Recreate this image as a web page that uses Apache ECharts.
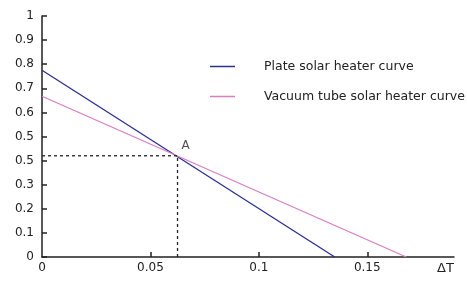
<!DOCTYPE html>
<html>
<head>
<meta charset="utf-8">
<script src="https://cdn.jsdelivr.net/npm/echarts@6/dist/echarts.min.js"></script>
<style>
  html, body { margin: 0; padding: 0; background: #fff; }
  #chart { width: 467px; height: 281px; }
</style>
</head>
<body>
<div id="chart"></div>
<script>
// line end points: [ΔT, efficiency]
const plateCurve = [[0, 0.775], [0.135, 0]];
const vacuumCurve = [[0, 0.667], [0.168, 0]];
// crossing point A and its guide lines
const pointA = [0.0625, 0.42];
const guideH = [[0, 0.42], [0.0625, 0.42]];
const guideV = [[0.0625, 0], [0.0625, 0.42]];
// y tick labels as printed (0.4 is shown as 0.5 in the source)
const yTickLabels = ["0", "0.1", "0.2", "0.3", "0.5", "0.5", "0.6", "0.7", "0.8", "0.9", "1"];
const xTickValues = [0.05, 0.1, 0.15];
const xLabelValues = [0, 0.05, 0.1, 0.15];

const font = "DejaVu Sans";
const ink = "#222";
const chart = echarts.init(document.getElementById("chart"));

chart.setOption({
  animation: false,
  textStyle: { fontFamily: font },
  grid: { left: 42, right: 13, top: 16, bottom: 24 },
  legend: {
    orient: "vertical",
    left: 205,
    top: 55,
    itemWidth: 25,
    itemHeight: 1.5,
    itemGap: 17,
    icon: "rect",
    textStyle: { fontFamily: font, fontSize: 12.5, color: ink, padding: [0, 0, 0, 24] },
    data: ["Plate solar heater curve", "Vacuum tube solar heater curve"],
  },
  xAxis: {
    type: "value",
    min: 0,
    max: 0.19,
    interval: 0.05,
    splitLine: { show: false },
    axisLine: { lineStyle: { color: ink, width: 1.5 } },
    axisTick: { inside: true, length: 5, customValues: xTickValues, lineStyle: { color: ink, width: 1.5 } },
    axisLabel: {
      customValues: xLabelValues,
      margin: 5,
      fontSize: 12,
      color: ink,
      fontFamily: font,
    },
    name: "ΔT",
    nameLocation: "end",
    nameGap: -17,
    nameTextStyle: { fontFamily: font, fontSize: 13, color: ink, verticalAlign: "top", padding: [5, 0, 0, 0] },
  },
  yAxis: {
    type: "value",
    min: 0,
    max: 1,
    interval: 0.1,
    splitLine: { show: false },
    axisLine: { show: true, lineStyle: { color: ink, width: 1.5 } },
    axisTick: { show: true, inside: true, length: 5, lineStyle: { color: ink, width: 1.5 } },
    axisLabel: {
      margin: 8,
      fontSize: 12,
      color: ink,
      fontFamily: font,
      formatter: (v) => yTickLabels[Math.round(v * 10)],
    },
  },
  series: [
    {
      name: "Plate solar heater curve",
      type: "line",
      data: plateCurve,
      symbol: "none",
      color: "#2b2f8f",
      lineStyle: { width: 1.3 },
    },
    {
      name: "Vacuum tube solar heater curve",
      type: "line",
      data: vacuumCurve,
      symbol: "none",
      color: "#d77fc4",
      lineStyle: { width: 1.3 },
    },
    {
      type: "line",
      data: guideH,
      symbol: "none",
      color: ink,
      lineStyle: { width: 1.3, type: [3, 3] },
      silent: true,
    },
    {
      type: "line",
      data: guideV,
      symbol: "none",
      color: ink,
      lineStyle: { width: 1.3, type: [3, 3] },
      silent: true,
    },
    {
      type: "scatter",
      data: [pointA],
      symbolSize: 0,
      label: {
        show: true,
        formatter: "A",
        position: "top",
        offset: [8, 1],
        fontSize: 12,
        color: ink,
        fontFamily: font,
      },
    },
  ],
});
</script>
</body>
</html>
